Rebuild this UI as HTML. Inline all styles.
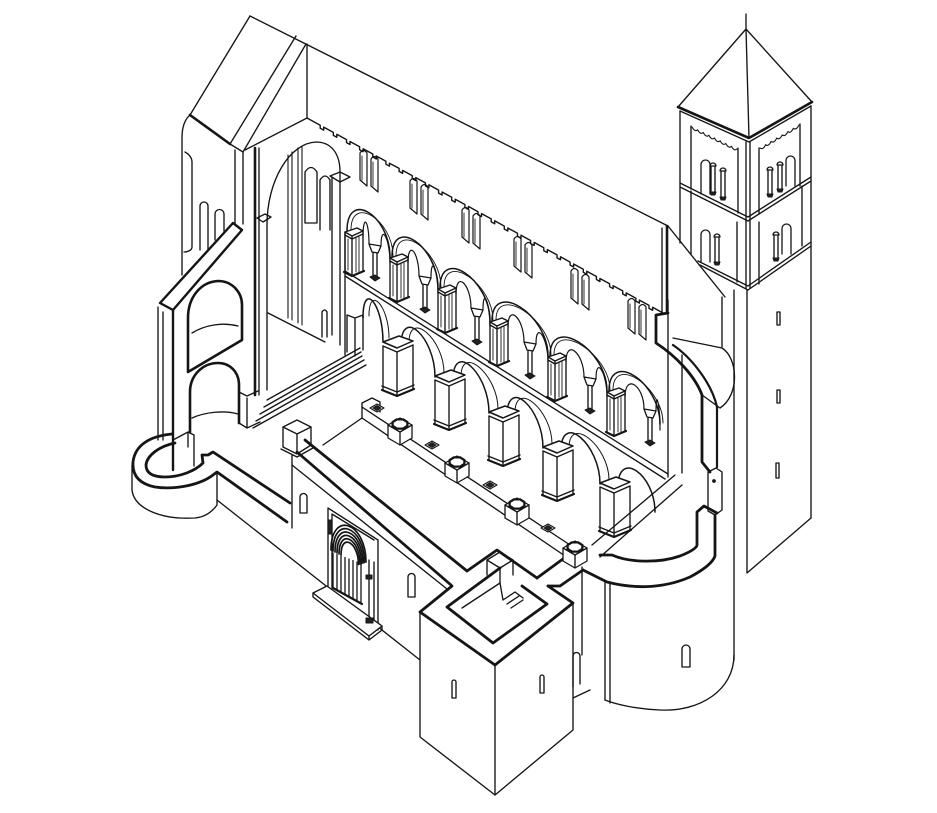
<!DOCTYPE html>
<html><head><meta charset="utf-8">
<style>html,body{margin:0;padding:0;background:#fff;}svg{display:block}</style>
</head><body>
<svg id="s" width="937" height="813" viewBox="0 0 937 813" xmlns="http://www.w3.org/2000/svg" fill="none" stroke="#151515" stroke-width="1.35" stroke-linejoin="round" stroke-linecap="round">
<rect x="0" y="0" width="937" height="813" fill="#fff" stroke="none"/>
<g id="st">
<!-- TOWER -->
<path d="M746,14 V29 M746,29 L678,107 M746,29 L749,138 M746,29 L812,102"/>
<polyline points="678,107 749,138 812,102" stroke-width="2.6"/>
<polyline points="680,111 749,142 811,106"/>
<path d="M680,111 V243 M746,142 V288 M750,142 V288 M811,106 V518"/>
<polyline points="680,183 748,217 811,177"/>
<polyline points="680,187 748,221 811,181"/>
<polyline points="698,261 748,286 811,242"/>
<polyline points="700,265 748,290 811,246"/>
<path d="M691,126 V189 M738,148 V213 M759,148 V214 M800,124 V186"/>
<path d="M691,191 V254 M737,222 V282 M759,222 V284 M802,186 V246"/>
<path d="M747,290 V573 L811,518"/>
<path d="M734,290 V660"/>
<path d="M777,312 h3 v13 h-3 Z M777,390 h3 v13 h-3 Z M776,463 h3 v15 h-3 Z"/>

<!-- NAVE ROOF / CLERESTORY -->
<line x1="250" y1="16" x2="668" y2="226"/>
<line x1="668" y1="226" x2="725" y2="297"/>
<line x1="662" y1="228" x2="662" y2="313"/>
<line x1="667" y1="226" x2="667" y2="313" stroke-width="2.6"/>
<line x1="307" y1="44" x2="307" y2="118"/>

<!-- WEST GABLE -->
<line x1="250" y1="16" x2="190" y2="115"/>
<line x1="190" y1="115" x2="230" y2="144" stroke-width="2.6"/>
<line x1="230" y1="144" x2="296" y2="36"/>
<line x1="306" y1="44" x2="243" y2="152"/>
<line x1="230" y1="144" x2="243" y2="152"/>
<line x1="307" y1="118" x2="245" y2="150"/>

<!-- WEST FACADE -->
<path d="M190,115 C184,120 182,128 182,138 V275"/>
<path d="M185,152 C189,154 192,158 192,162 V247 C192,250 188,252 184,252"/>
<path d="M235,150 V232 M243,152 V224"/>
<path d="M255,148 V395" stroke-width="2.6"/>
<path d="M259,148 V395"/>
<path d="M200,250 V206 A4,4 0 0 1 208,206 V250"/>
<path d="M215,240 V214 A4.5,4.5 0 0 1 224,214 V232"/>
<path d="M160,303 L233,223 L242,230 L173,310 Z" stroke-width="2.4" fill="#fff"/>
<path d="M158,307 V440 M163,312 V440"/>
<path d="M173,310 V470" stroke-width="2.4"/>
<path d="M188,372 V318 C188,298 200,282 218,281 C232,281 242,292 242,305 V340 Z" stroke-width="2.6"/>
<path d="M192,333 C205,325 222,322 238,326"/>
<path d="M190,432 V392 C190,375 203,363 218,363 C230,363 239,372 239,385 V423" stroke-width="2.6"/>
<path d="M192,418 C205,412 225,410 238,414"/>
<path d="M239,423 L247,428 L260,422 M247,428 V398 M239,392 L247,396 L258,391"/>
<path d="M173,440 L188,432 L194,435 V466 M188,432 V447"/>

<!-- TALL ARCH -->
<path d="M267,390 V225 C267,180 290,143 316,142 C330,142 340,152 340,172 V345"/>
<path d="M332,177 V335"/>
<path d="M288,155 V318 M292,152 V320 M298,148 V323 M302,147 V325" stroke-width="1.1"/>
<path d="M257,218 L265,214 L271,217 L263,222 Z"/>
<path d="M330,176 L340,172 L350,177 L340,182 Z"/>
<path d="M305,223 V172 Q311,163 317,172 V223 Z"/>
<path d="M320,230 V180 Q325,172 330,180 V230"/>
<path d="M322,337 V312 Q324.5,308 327,312 V337"/>
<line x1="268" y1="313" x2="325" y2="342"/>
<path d="M267,400 L360,348 M264,407 L361,352 M260,414 L362,356 M256,421 L364,360 M253,428 L366,365"/>
<path d="M345,232 V355"/>
<path d="M347,315 L355,318 L363,315 M347,315 V352 M355,318 V356 M363,315 V350"/>

<!-- GALLERY FLOOR -->
<line x1="345" y1="271" x2="668" y2="474"/>
<line x1="345" y1="276" x2="665" y2="479"/>

<!-- LEFT APSE -->
<path d="M172,434 C150,436 135,445 133,462 C132,476 140,484 155,487 C175,490 200,485 213,475 L217,472 L287,522" stroke-width="2.8"/>
<path d="M175,443 C160,446 147,455 146,465 C146,473 152,477 165,477 C180,477 195,471 203,463 L202,455 L208,455 L213,452 L290,503" stroke-width="2.8"/>
<path d="M132,465 V490 C134,508 160,520 195,518 C205,517 212,512 217,505 V472"/>
<line x1="217" y1="500" x2="420" y2="660"/>
<path d="M292,455 V528"/>

<!-- PILLAR + S WALL BAND -->
<path d="M283,427 L297,420 L311,427 L297,434 Z" fill="#fff"/>
<path d="M283,427 V447 L297,454 L311,445 V427 M297,434 V454"/>
<path d="M281,449 L297,457 L313,448"/>
<line x1="305" y1="440" x2="467" y2="571" stroke-width="2.8"/>
<line x1="297" y1="452" x2="451" y2="585" stroke-width="2.8"/>
<line x1="292" y1="465" x2="447" y2="589"/>
<line x1="323" y1="445" x2="362" y2="418"/>

<!-- STYLOBATE -->
<line x1="362" y1="407" x2="570" y2="545"/>
<line x1="362" y1="418" x2="568" y2="558"/>
<path d="M362,403 L372,398 L380,402 M362,403 V418 M380,402 V412"/>

<!-- PORTAL -->
<path d="M328,592 V508 L378,540 V630"/>
<path d="M332,588 V514 L374,540"/>
<path d="M369,560 V625 M374,562 V628"/>
<path d="M313,593 L327,586 L382,626 L369,636 Z" fill="#fff"/>
<path d="M313,593 V597 L369,640 V636 M369,640 L382,630 V626"/>
<path d="M300,513 V497 A3.5,3.5 0 0 1 307,497 V513 Z"/>
<path d="M408,597 V577 A3.5,3.5 0 0 1 415,577 V597 Z"/>

<!-- FRONT TOWER -->
<path d="M420,612 L495,665 L573,603 V730 L495,795 L420,737 Z" fill="#fff"/>
<path d="M495,665 V795"/>
<polyline points="452,586 420,612 495,665 573,603 548,586" stroke-width="2.8"/>
<polyline points="467,571 497,550 537,578" stroke-width="2.8"/>
<polyline points="500,568 447,607 493,643 547,604 522,586" stroke-width="2.8"/>
<path d="M487,560 L500,552 L513,560 L500,568 Z M487,560 V575 M500,568 V583 M513,560 V575"/>
<path d="M503,600 L515,592 L523,598 M507,604 L519,596 M511,608 L523,600 M500,583 L503,600"/>
<path d="M462,608 L500,583"/>
<path d="M452,698 V682 A2,2 0 0 1 456,682 V698 Z"/>
<path d="M540,693 V677 A2,2 0 0 1 544,677 V693 Z"/>
<line x1="537" y1="578" x2="567" y2="556" stroke-width="2.8"/>
<polyline points="548,586 560,586 583,570" stroke-width="2.8"/>

<!-- CROSSING / EAST -->
<line x1="592" y1="545" x2="675" y2="475"/>
<line x1="600" y1="557" x2="682" y2="485"/>
<path d="M668,313 L656,315 V343 C676,356 695,376 702,395 V462 L710,472" stroke-width="2.8"/>
<path d="M673,345 C692,358 712,384 717,407 V467" stroke-width="2.2"/>
<path d="M668,300 V477 M682,355 V473"/>
<path d="M708,472 L716,468 L722,472 V510 L715,515 L708,511 Z"/>
<circle cx="714" cy="481" r="1.2" fill="#151515"/>
<path d="M600,555 L612,555 C630,563 660,563 680,556 C690,552 697,548 697,545 V512 L704,506 L717,513" stroke-width="2.8"/>
<path d="M583,570 L607,582 C630,588 660,590 690,577 C705,569 713,562 715,556 V515" stroke-width="2.8"/>
<line x1="722" y1="297" x2="722" y2="347"/>
<path d="M673,338 L722,348 C738,358 740,395 720,408 L702,395"/>

<!-- APSE -->
<path d="M605,582 V700 M610,584 V703 M582,567 V655"/>
<path d="M734,655 C734,690 700,712 660,710 C635,709 615,704 605,700"/>
<path d="M682,667 V649 A4,4 0 0 1 690,649 V667 Z"/>
<path d="M573,687 V656 A3.5,3.5 0 0 1 580,656 V684 M573,698 L590,690"/>
</g>
<g id="gen"></g>
</svg>
<script>
(function(){
const S=[];
const f=v=>Math.round(v*10)/10;
const ln=(pts,w,ex)=>S.push('<polyline points="'+pts.map(p=>f(p[0])+','+f(p[1])).join(' ')+'"'+(w?' stroke-width="'+w+'"':'')+(ex||'')+'/>');
const pth=(d,w,ex)=>S.push('<path d="'+d+'"'+(w?' stroke-width="'+w+'"':'')+(ex||'')+'/>');
const arch=(x1,y1,x2,y2,h,w)=>pth('M'+f(x1)+','+f(y1)+' C'+f(x1)+','+f(y1-h)+' '+f(x2)+','+f(y2-h)+' '+f(x2)+','+f(y2),w);

function teeth(x1,y1,x2,y2,step,d,w){
  const dx=x2-x1,dy=y2-y1,L=Math.hypot(dx,dy),ux=dx/L,uy=dy/L;
  const pts=[[x1,y1]];
  for(let s=step;s<L-6;s+=step){
    const bx=x1+ux*s,by=y1+uy*s;
    pts.push([bx,by],[bx,by+d],[bx+ux*4,by+uy*4+d],[bx+ux*4,by+uy*4]);
  }
  pts.push([x2,y2]); ln(pts,w);
}
teeth(307,118,663,313,15,3,1.4);

function slit(x,y){pth('M'+x+','+(y+30)+' V'+(y+3)+' Q'+(x+3.5)+','+(y-2)+' '+(x+7)+','+(y+3)+' V'+(y+36)+' Z',1.2); ln([[x+2,y+6],[x+2,y+30]],0.9);}
[[360,150],[410,178],[462,207],[514,236],[571,268],[628,298]].forEach(function(p){slit(p[0],p[1]);slit(p[0]+11,p[1]+6);});

// upper gallery
const UP=[[345,232],[390,258],[438,289],[490,322],[548,357],[607,392]];
const UC=[[369,244],[419,276],[471,308],[524,342],[584,377],[644,409]];
function uPier(x,y){const w=18,m=x+7,h=40;
 pth('M'+x+','+y+' L'+m+','+(y+4)+' L'+(x+w)+','+(y-1)+' L'+(x+w-6)+','+(y-4)+' Z',1.4,' fill="#fff"');
 ln([[x,y+3],[m,y+7],[x+w,y+2]]);
 ln([[x,y],[x,y+h]]);ln([[m,y+4],[m,y+h+4]]);ln([[x+w,y-1],[x+w,y+h-1]]);
 ln([[x+3,y+7],[x+3,y+h-2]],0.9); ln([[x+11,y+6],[x+11,y+h]],0.9); ln([[x+14,y+5],[x+14,y+h]],0.9);
 ln([[x-1,y+h],[m,y+h+4],[x+w+1,y+h-1]],2.2);
}
function uCol(x,y){ pth('M'+x+','+y+' L'+(x+12)+','+(y+2)+' L'+(x+9)+','+(y+9)+' L'+(x+3)+','+(y+8)+' Z',1.3);
 ln([[x+4,y+9],[x+4,y+33]]); ln([[x+8,y+9],[x+8,y+34]]);
 pth('M'+(x+1)+','+(y+33)+' L'+(x+6)+','+(y+31)+' L'+(x+11)+','+(y+34)+' L'+(x+6)+','+(y+37)+' Z',1,' fill="#222"'); }
for(let i=0;i<UP.length;i++){
  const p=UP[i], n=i<UP.length-1?UP[i+1]:[660,425], c=UC[i];
  arch(p[0]+2,p[1]-1,n[0],n[1]-1,42,1.5);
  arch(p[0]+6,p[1]-2,n[0]+3,n[1]-2,36,0.9);
  arch(p[0]+18,p[1]+5,c[0],c[1],24,1.2);
  arch(c[0]+12,c[1]+2,n[0],n[1]+5,24,1.2);
}
UP.forEach(function(p){uPier(p[0],p[1]);});
UC.forEach(function(p){uCol(p[0],p[1]);});

// lower arcade
const LP=[[383,342],[435,376],[489,412],[543,447],[600,483]];
function bPier(x,y){const w=30,m=x+14,h=48;
 pth('M'+x+','+y+' L'+m+','+(y+6)+' L'+(x+w)+','+(y-1)+' L'+(x+w-14)+','+(y-6)+' Z',1.5,' fill="#fff"');
 ln([[x,y+4],[m,y+10],[x+w,y+3]]);
 ln([[x,y+4],[x,y+h]]);ln([[m,y+10],[m,y+h+6]]);ln([[x+w,y+3],[x+w,y+h-1]]);
 ln([[x-1,y+h-4],[m,y+h+2],[x+w+1,y+h-5]]);
 ln([[x-1,y+h],[m,y+h+6],[x+w+1,y+h-1]],2.1);
}
arch(363,318,383,342,38,1.5); arch(369,316,389,338,32,1);
for(let i=0;i<LP.length-1;i++){
  const p=LP[i],n=LP[i+1];
  arch(p[0]+18,p[1]+4,n[0],n[1]+1,40,1.5);
  arch(p[0]+26,p[1]+1,n[0]+9,n[1]-3,34,1);
}
arch(618,487,655,512,38,1.5);
LP.forEach(function(p){bPier(p[0],p[1]);});

// stylobate blocks
function plinth(cx,cy){
 pth('M'+(cx-12)+','+cy+' L'+cx+','+(cy-7)+' L'+(cx+12)+','+cy+' V'+(cy+13)+' L'+cx+','+(cy+20)+' L'+(cx-12)+','+(cy+13)+' Z',1.3,' fill="#fff"');
 ln([[cx-12,cy],[cx,cy+7],[cx+12,cy]]);
 ln([[cx,cy+7],[cx,cy+20]]);
 const pts=[];for(let k=0;k<8;k++){const a=Math.PI/8+k*Math.PI/4;pts.push([cx+8*Math.cos(a),cy-1+5*Math.sin(a)]);} pts.push(pts[0]); ln(pts,2.3);
}
function dsq(x,y){ pth('M'+(x-7)+','+y+' L'+x+','+(y-4)+' L'+(x+7)+','+y+' L'+x+','+(y+4)+' Z',1.1,' fill="#fff"'); pth('M'+(x-4)+','+y+' L'+x+','+(y-2.5)+' L'+(x+4)+','+y+' L'+x+','+(y+2.5)+' Z',1,' fill="#222"'); }
[[377,408],[432,445],[490,485],[548,528]].forEach(function(p){dsq(p[0],p[1]);});
[[400,425],[457,463],[517,505],[575,548]].forEach(function(p){plinth(p[0],p[1]);});

// portal archivolts and columns
for(let k=0;k<6;k++){arch(331+2*k,550+k,366-1.5*k,562+k*0.5,40-3.5*k,1.7);}
for(let k=0;k<8;k++){const x=333+4*k; ln([[x,553+k*1.5],[x,588+k*2]],1.3);}
pth('M333,588 L362,604',2.2);
pth('M366,575 h6 v4 h-6 Z M366,618 h7 v5 h-7 Z M328,520 h4 v14 h-4 Z',1,' fill="#222"');

// tower corbels, windows, columns
function arcs(x1,y1,x2,y2,n){let d='';for(let k=0;k<n;k++){const t=k/n,t2=(k+1)/n;const ax=x1+(x2-x1)*t,ay=y1+(y2-y1)*t,bx=x1+(x2-x1)*t2,by=y1+(y2-y1)*t2;d+='M'+f(ax)+','+f(ay)+' Q'+f((ax+bx)/2)+','+f((ay+by)/2+4)+' '+f(bx)+','+f(by)+' ';}pth(d,1.1);}
arcs(692,127,737,149,8); arcs(760,148,799,125,7);
function aw(x,y,w,h,sw){pth('M'+x+','+(y+h)+' V'+(y+w/2)+' A'+(w/2)+','+(w/2)+' 0 0 1 '+(x+w)+','+(y+w/2)+' V'+(y+h),sw||1.3);}
function tcol(x,y1,y2){ln([[x-2,y1+3],[x-2,y2]]);ln([[x+2,y1+3],[x+2,y2]]);pth('M'+(x-3)+','+(y1+3)+' a3,3 0 1 1 6,0 Z',1.3);pth('M'+(x-3)+','+y2+' L'+(x+3)+','+y2+' L'+(x+2)+','+(y2+3)+' L'+(x-2)+','+(y2+3)+' Z',1,' fill="#222"');}
aw(701,160,9,34); tcol(713,163,192); tcol(723,168,197);
aw(786,156,9,30); tcol(770,167,194); tcol(780,162,189);
aw(701,230,9,32); tcol(717,234,262);
aw(782,224,9,30); tcol(776,232,258);

document.getElementById('gen').innerHTML=S.join('');
})();
</script>
</body></html>
